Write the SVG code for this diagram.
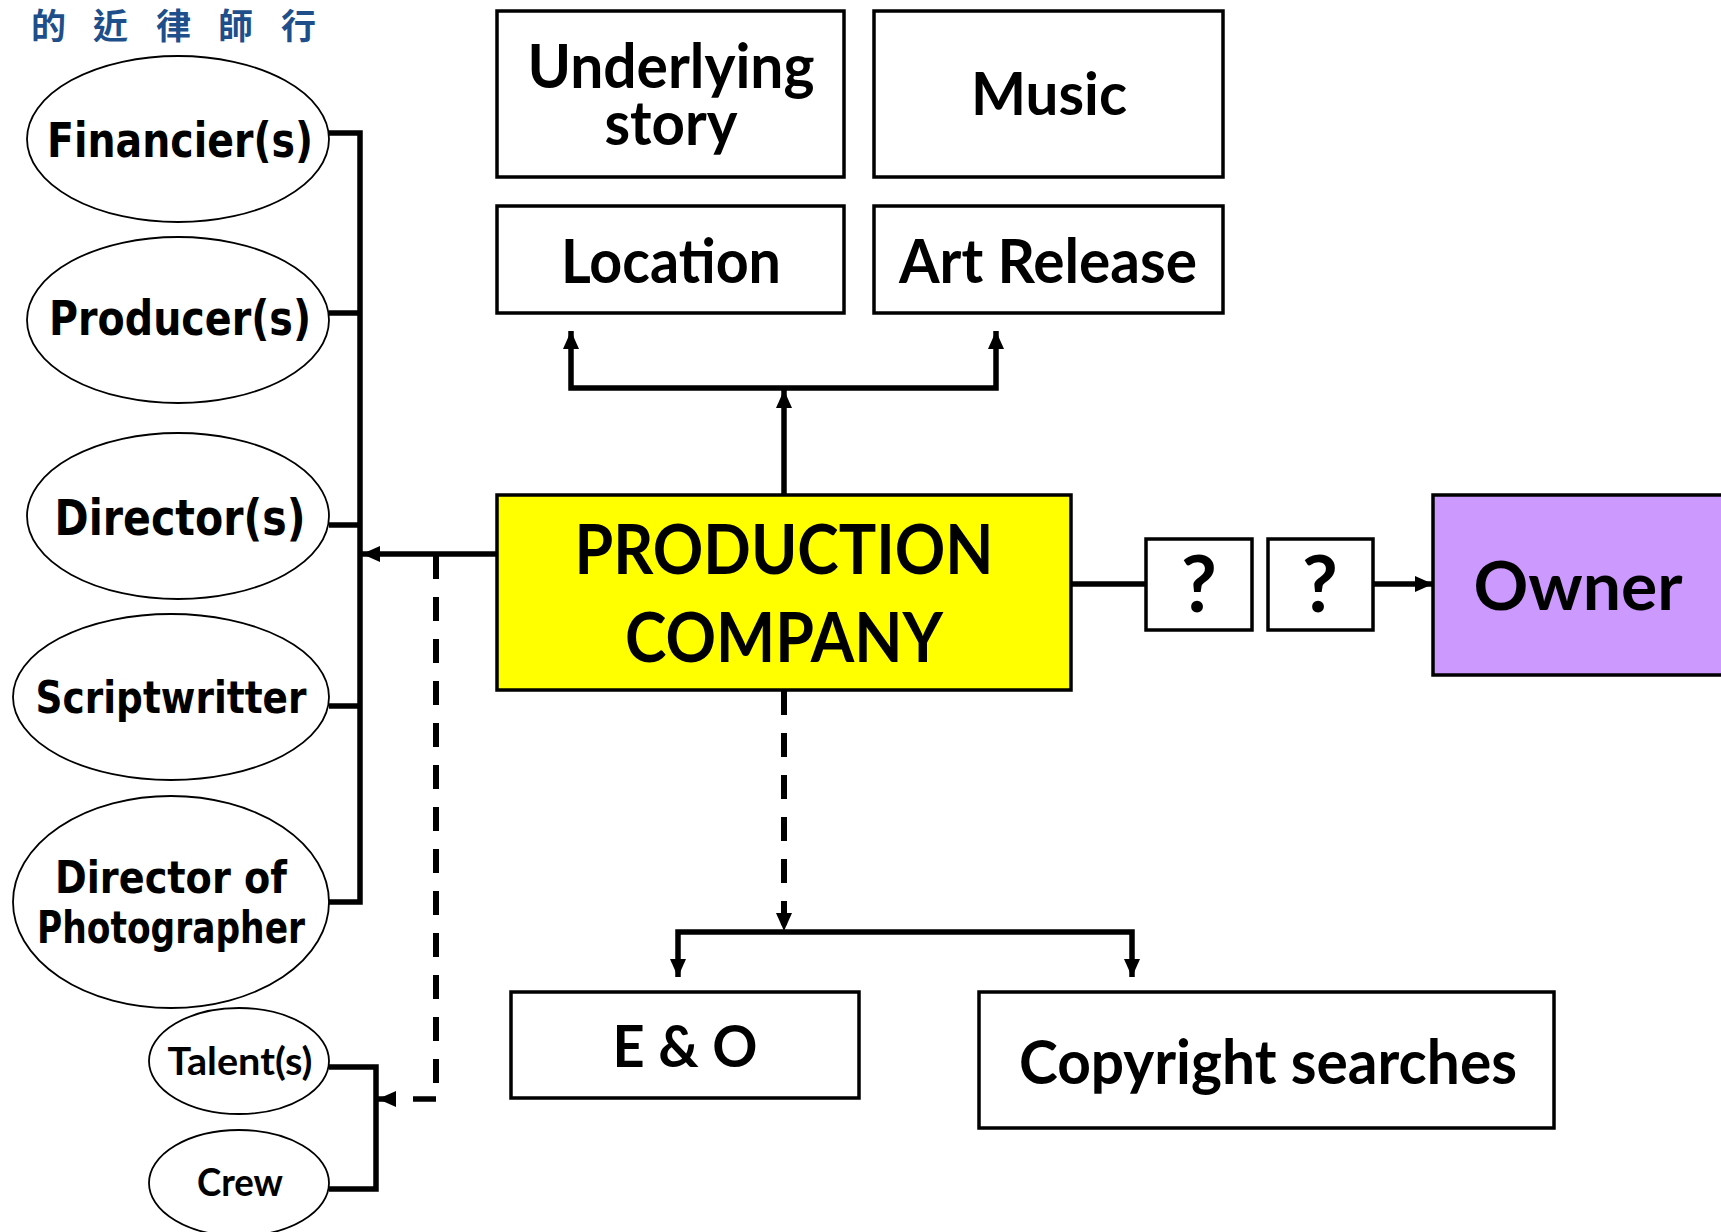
<svg xmlns="http://www.w3.org/2000/svg" width="1721" height="1232" viewBox="0 0 1721 1232">
<style>
.ell{fill:#fff;stroke:#000;stroke-width:1.8}
.box{fill:#fff;stroke:#000;stroke-width:3.5}
.con{fill:none;stroke:#000;stroke-width:5.5}
.dash{fill:none;stroke:#000;stroke-width:6;stroke-dasharray:24 18}
.comic{font-family:"DejaVu Sans",sans-serif;font-weight:bold;fill:#000;text-anchor:middle}
.cal{font-family:Lato,"Open Sans",sans-serif;font-weight:bold;fill:#000;text-anchor:middle}
.cjk{font-family:"Noto Sans CJK TC","Noto Sans CJK SC",sans-serif;font-weight:bold;fill:#1f4f8a;font-size:35px}
</style>
<defs>
<marker id="ah" viewBox="0 0 18 16" refX="18" refY="8" markerWidth="18" markerHeight="16" markerUnits="userSpaceOnUse" orient="auto-start-reverse">
<path d="M0,0 L18,8 L0,16 z" fill="#000"/>
</marker>
</defs>
<rect width="1721" height="1232" fill="#fff"/>
<g id="title"><text class="cjk" y="39"><tspan x="31">的</tspan><tspan x="93">近</tspan><tspan x="156">律</tspan><tspan x="218">師</tspan><tspan x="281">行</tspan></text></g>

<g id="connectors">
<path class="con" d="M329,133 H360 V902 H329"/>
<path class="con" d="M329,313 H360"/>
<path class="con" d="M329,525 H360"/>
<path class="con" d="M329,706 H360"/>
<path class="con" d="M497,554 H362" marker-end="url(#ah)"/>
<path class="dash" d="M436,555 V1085"/>
<path class="con" d="M436,1099 H413"/>
<path class="con" d="M394,1099 H378" marker-end="url(#ah)"/>
<path class="con" d="M329,1067 H376 V1189 H329"/>
<path class="con" d="M784,495 V390" marker-end="url(#ah)"/>
<path class="con" d="M571,331 V388 H996 V331" marker-start="url(#ah)" marker-end="url(#ah)"/>
<path class="dash" d="M784,691 V931" marker-end="url(#ah)"/>
<path class="con" d="M678,977 V932 H1132 V977" marker-start="url(#ah)" marker-end="url(#ah)"/>
<path class="con" d="M1071,584 H1146"/>
<path class="con" d="M1373,584 H1433" marker-end="url(#ah)"/>
</g>

<g id="financier"><ellipse class="ell" cx="178" cy="139" rx="151" ry="83"/><text class="comic" x="180" y="157" font-size="48" textLength="266" lengthAdjust="spacingAndGlyphs">Financier(s)</text></g>
<g id="producer"><ellipse class="ell" cx="178" cy="320" rx="151" ry="83"/><text class="comic" x="180" y="335" font-size="48" textLength="262" lengthAdjust="spacingAndGlyphs">Producer(s)</text></g>
<g id="director"><ellipse class="ell" cx="178" cy="516" rx="151" ry="83"/><text class="comic" x="180" y="535" font-size="50" textLength="251" lengthAdjust="spacingAndGlyphs">Director(s)</text></g>
<g id="scriptwriter"><ellipse class="ell" cx="171" cy="697" rx="158" ry="83"/><text class="comic" x="171" y="713" font-size="44" textLength="271" lengthAdjust="spacingAndGlyphs">Scriptwritter</text></g>
<g id="dop"><ellipse class="ell" cx="171" cy="902" rx="158" ry="106"/><text class="comic" x="171" y="893" font-size="44" textLength="232" lengthAdjust="spacingAndGlyphs">Director of</text><text class="comic" x="171" y="943" font-size="44" textLength="268" lengthAdjust="spacingAndGlyphs">Photographer</text></g>
<g id="talent"><ellipse class="ell" cx="239" cy="1061" rx="90" ry="53"/><text class="cal" x="240" y="1075" font-size="39" textLength="145" lengthAdjust="spacingAndGlyphs">Talent(s)</text></g>
<g id="crew"><ellipse class="ell" cx="239" cy="1183" rx="90" ry="53"/><text class="cal" x="240" y="1196" font-size="39" textLength="86" lengthAdjust="spacingAndGlyphs">Crew</text></g>

<g id="underlying"><rect class="box" x="497" y="11" width="347" height="166"/><text class="cal" x="671" y="88" font-size="61" textLength="287" lengthAdjust="spacingAndGlyphs">Underlying</text><text class="cal" x="671" y="145" font-size="61" textLength="133" lengthAdjust="spacingAndGlyphs">story</text></g>
<g id="music"><rect class="box" x="874" y="11" width="349" height="166"/><text class="cal" x="1049" y="115" font-size="60" textLength="156" lengthAdjust="spacingAndGlyphs">Music</text></g>
<g id="location"><rect class="box" x="497" y="206" width="347" height="107"/><text class="cal" x="671" y="283" font-size="62" textLength="220" lengthAdjust="spacingAndGlyphs">Location</text></g>
<g id="artrelease"><rect class="box" x="874" y="206" width="349" height="107"/><text class="cal" x="1048" y="283" font-size="62" textLength="298" lengthAdjust="spacingAndGlyphs">Art Release</text></g>

<g id="production"><rect class="box" x="497" y="495" width="574" height="195" style="fill:#ffff00"/><text class="cal" x="784" y="574" font-size="68" textLength="419" lengthAdjust="spacingAndGlyphs">PRODUCTION</text><text class="cal" x="784" y="662" font-size="68" textLength="318" lengthAdjust="spacingAndGlyphs">COMPANY</text></g>
<g id="q1"><rect class="box" x="1146" y="539" width="106" height="91"/><text class="cal" x="1199" y="612" font-size="78">?</text></g>
<g id="q2"><rect class="box" x="1268" y="539" width="105" height="91"/><text class="cal" x="1320" y="612" font-size="78">?</text></g>
<g id="owner"><rect class="box" x="1433" y="495" width="300" height="180" style="fill:#cc99ff"/><text class="cal" x="1578" y="610" font-size="67" textLength="209" lengthAdjust="spacingAndGlyphs">Owner</text></g>

<g id="eo"><rect class="box" x="511" y="992" width="348" height="106"/><text class="cal" x="685" y="1067" font-size="57" textLength="145" lengthAdjust="spacingAndGlyphs">E &amp; O</text></g>
<g id="copyright"><rect class="box" x="979" y="992" width="575" height="136"/><text class="cal" x="1268" y="1084" font-size="61" textLength="498" lengthAdjust="spacingAndGlyphs">Copyright searches</text></g>
</svg>
